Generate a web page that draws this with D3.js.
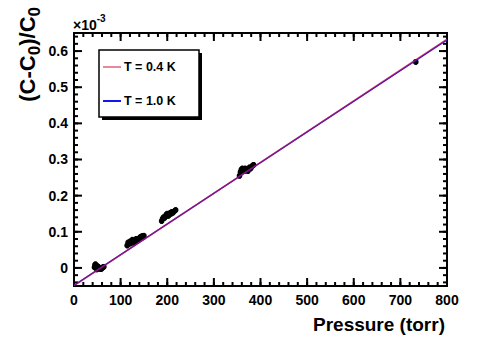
<!DOCTYPE html>
<html>
<head>
<meta charset="utf-8">
<script src="https://d3js.org/d3.v7.min.js"></script>
<style>
  body { margin: 0; background: #fff; }
  svg { display: block; font-family: "Liberation Sans", Arial, sans-serif; font-weight: bold; }
</style>
</head>
<body>
<div id="chart"></div>
<script>
// ---------------- DATA ----------------
const pressure = [44, 45, 46, 47, 48, 49, 50, 52, 54, 56, 58, 60, 62, 64,
  114, 116, 118, 120, 122, 125, 127, 129, 131, 133, 136, 138, 140, 143, 146, 148, 150,
  188, 190, 192, 194, 196, 198, 200, 202, 204, 206, 208, 210, 212, 215, 218,
  355, 357, 359, 361, 363, 365, 367, 369, 371, 373, 376, 379, 382, 385,
  733];
const deltaC = [0.002, 0.008, 0.010, 0.006, 0.000, -0.004, 0.005, 0.003, -0.002, 0.000, -0.003, -0.001, 0.002, 0.003,
  0.062, 0.070, 0.067, 0.073, 0.068, 0.078, 0.072, 0.070, 0.075, 0.080, 0.076, 0.078, 0.083, 0.086, 0.088, 0.085, 0.089,
  0.130, 0.136, 0.140, 0.138, 0.142, 0.148, 0.150, 0.144, 0.147, 0.152, 0.150, 0.155, 0.153, 0.157, 0.160,
  0.255, 0.265, 0.272, 0.275, 0.270, 0.268, 0.275, 0.272, 0.270, 0.268, 0.278, 0.275, 0.282, 0.285,
  0.570];
const errC = 0.008;

// linear fits, [pressure, value] end points
const fitNames = ["T = 0.4 K", "T = 1.0 K"];
const fitColors = ["#d0103a", "#1515ee"];
const fitLines = [
  [[0, -0.049], [800, 0.633]],
  [[0, -0.048], [800, 0.631]]
];

const xTicks = [0, 100, 200, 300, 400, 500, 600, 700, 800];
const yTicks = [0, 0.1, 0.2, 0.3, 0.4, 0.5, 0.6];

// ---------------- SVG ----------------
const W = 485, H = 337;
const margin = { top: 33, right: 38, bottom: 51, left: 74 };
const width = W - margin.left - margin.right;
const height = H - margin.top - margin.bottom;

const svg = d3.select("#chart").append("svg")
  .attr("width", W).attr("height", H);
const g = svg.append("g").attr("transform", "translate(" + margin.left + "," + margin.top + ")");

const x = d3.scaleLinear().domain([0, 800]).range([0, width]);
const y = d3.scaleLinear().domain([-0.05, 0.65]).range([height, 0]);

g.append("clipPath").attr("id", "clip")
  .append("rect").attr("width", width).attr("height", height);

// ---------------- AXES (ROOT style, ticks inward) ----------------
const xMinor = d3.range(0, 801, 20);
const yMinor = d3.range(-0.04, 0.651, 0.02);

function tickLines(sel, vals, scale, len, orient) {
  sel.selectAll(null).data(vals).enter().append("line")
    .attr("x1", d => orient === "b" || orient === "t" ? scale(d) : (orient === "l" ? 0 : width))
    .attr("x2", d => orient === "b" || orient === "t" ? scale(d) : (orient === "l" ? len : width - len))
    .attr("y1", d => orient === "l" || orient === "r" ? scale(d) : (orient === "b" ? height : 0))
    .attr("y2", d => orient === "l" || orient === "r" ? scale(d) : (orient === "b" ? height - len : len))
    .attr("stroke", "#000").attr("stroke-width", 2);
}
const ticks = g.append("g");
tickLines(ticks, xMinor, x, 4, "b");
tickLines(ticks, xTicks, x, 8, "b");
tickLines(ticks, xMinor, x, 4, "t");
tickLines(ticks, xTicks, x, 8, "t");
tickLines(ticks, yMinor, y, 4, "l");
tickLines(ticks, yTicks, y, 8, "l");
tickLines(ticks, yMinor, y, 4, "r");
tickLines(ticks, yTicks, y, 8, "r");

g.append("rect").attr("width", width).attr("height", height)
  .attr("fill", "none").attr("stroke", "#000").attr("stroke-width", 2);

g.selectAll(".xl").data(xTicks).enter().append("text")
  .attr("x", d => x(d)).attr("y", height + 19)
  .attr("text-anchor", "middle").attr("font-size", 14)
  .text(d => d);

g.selectAll(".yl").data(yTicks).enter().append("text")
  .attr("x", -6).attr("y", d => y(d)).attr("dy", "0.35em")
  .attr("text-anchor", "end").attr("font-size", 14)
  .text(d => d3.format("")(d));

// x10^-3 multiplier
const mult = g.append("text").attr("x", -1).attr("y", -3).attr("font-size", 14);
mult.append("tspan").text("\u00d710");
mult.append("tspan").attr("dy", -8).attr("font-size", 10).text("-3");

// axis titles
g.append("text")
  .attr("x", width - 2).attr("y", height + 45)
  .attr("text-anchor", "end").attr("font-size", 19)
  .text("Pressure (torr)");

const yt = svg.append("text")
  .attr("transform", "translate(35,7) rotate(-90)")
  .attr("text-anchor", "end").attr("font-size", 22);
yt.append("tspan").text("(C-C");
yt.append("tspan").attr("font-size", 17).attr("dy", 5).text("0");
yt.append("tspan").attr("dy", -5).text(")/C");
yt.append("tspan").attr("font-size", 17).attr("dy", 5).text("0");

// ---------------- DATA POINTS ----------------
const pts = g.append("g").attr("clip-path", "url(#clip)");
const data = pressure.map((p, i) => ({ p: p, v: deltaC[i] }));
pts.selectAll(".err").data(data).enter().append("line")
  .attr("x1", d => x(d.p)).attr("x2", d => x(d.p))
  .attr("y1", d => y(d.v - errC)).attr("y2", d => y(d.v + errC))
  .attr("stroke", "#000").attr("stroke-width", 2.5);
pts.selectAll(".pt").data(data).enter().append("circle")
  .attr("cx", d => x(d.p)).attr("cy", d => y(d.v)).attr("r", 2.8)
  .attr("fill", "#000");

// ---------------- FIT LINES ----------------
const line = d3.line().x(d => x(d[0])).y(d => y(d[1]));
const fits = g.append("g").attr("clip-path", "url(#clip)");
[1, 0].forEach(i => {
  fits.append("path").attr("d", line(fitLines[i]))
    .attr("fill", "none").attr("stroke", fitColors[i])
    .attr("stroke-width", 1.5).attr("stroke-opacity", i === 0 ? 0.65 : 1);
});

// ---------------- LEGEND ----------------
const lg = svg.append("g").attr("transform", "translate(99,50)");
lg.append("rect").attr("x", 3).attr("y", 3).attr("width", 100).attr("height", 67).attr("fill", "#000");
lg.append("rect").attr("width", 100).attr("height", 67).attr("fill", "#fff")
  .attr("stroke", "#000").attr("stroke-width", 1.5);
fitNames.forEach((name, i) => {
  const yy = 17 + i * 34;
  lg.append("line").attr("x1", 4).attr("x2", 22).attr("y1", yy).attr("y2", yy)
    .attr("stroke", fitColors[i]).attr("stroke-width", i === 0 ? 1 : 2);
  lg.append("text").attr("x", 25).attr("y", yy).attr("dy", "0.35em")
    .attr("font-size", 12.5).text(name);
});
</script>
</body>
</html>
